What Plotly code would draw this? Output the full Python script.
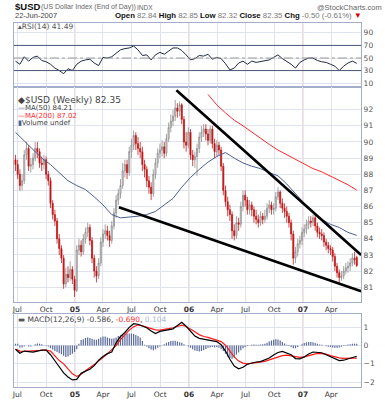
import plotly.graph_objects as go
import pandas as pd

# ---------------- data ----------------
weeks = pd.date_range('2004-06-25', periods=157, freq='7D')

price_open = [88.9,88.6,88.0,87.3,87.6,89.2,89.6,88.5,88.6,89.0,89.6,89.4,88.7,88.6,88.9,88.0,87.6,86.2,85.5,85.1,
              84.0,83.4,82.8,81.2,81.8,81.6,82.1,81.5,80.8,83.3,83.6,83.2,84.0,84.4,84.7,83.9,82.8,82.0,81.7,82.5,
              83.8,84.3,84.5,84.2,83.9,84.8,85.6,86.4,86.8,87.3,88.2,88.6,88.1,89.4,89.8,90.4,89.9,89.6,89.4,88.6,
              88.3,87.6,87.2,86.8,88.0,88.7,89.3,89.5,89.7,89.3,90.2,90.9,91.3,91.6,92.1,91.9,92.3,91.4,90.0,89.8,
              90.6,89.2,88.9,89.1,89.6,90.3,90.6,90.8,90.5,90.1,90.8,89.9,89.4,89.8,89.5,88.5,87.0,86.3,85.8,85.5,
              84.5,84.2,85.0,84.9,86.0,86.7,86.4,85.8,86.1,85.8,85.4,85.2,85.0,85.4,85.2,85.4,85.9,86.1,85.8,85.9,
              86.6,86.9,86.2,85.9,85.7,85.4,85.0,84.3,82.8,83.2,83.7,83.9,84.4,84.6,84.9,85.1,85.0,85.3,84.8,84.4,
              84.3,84.2,83.8,83.6,83.4,83.3,82.9,82.3,81.9,81.6,81.7,82.0,82.2,82.3,82.5,82.8,82.84]
price_high = [89.2,88.9,88.3,88.0,89.5,90.0,89.8,89.0,89.3,90.0,90.0,89.6,89.1,89.2,89.1,88.2,87.8,86.4,85.8,85.3,
              84.3,83.6,83.0,82.2,82.3,82.6,82.3,81.7,83.6,84.0,83.9,84.3,84.7,85.0,84.9,84.1,83.0,82.3,82.8,84.1,
              84.6,84.9,84.8,84.5,85.1,85.9,86.7,87.1,87.7,88.7,88.9,88.9,89.7,90.2,90.7,90.6,90.3,90.0,89.7,88.9,
              88.5,87.9,87.5,88.3,89.0,89.6,89.9,90.1,90.0,90.5,91.2,91.7,92.0,92.6,92.4,92.5,92.4,91.6,90.6,90.9,
              90.8,89.5,89.4,89.9,90.6,91.0,91.1,91.1,90.8,91.0,91.0,90.2,90.1,90.0,89.7,88.7,87.3,86.6,86.1,85.7,
              84.9,85.4,85.3,86.3,87.0,87.0,86.6,86.4,86.3,86.0,85.8,85.5,85.7,85.6,85.8,86.2,86.4,86.3,86.2,86.9,
              87.2,87.0,86.5,86.2,86.0,85.6,85.2,84.5,83.5,84.0,84.2,84.7,84.9,85.2,85.4,85.4,85.5,85.5,85.0,84.7,
              84.6,84.4,84.0,83.8,83.6,83.5,83.1,82.5,82.1,82.0,82.3,82.5,82.6,82.8,83.1,83.2,82.95]
price_low = [88.2,87.7,87.0,87.0,87.4,88.9,88.2,88.1,88.3,88.8,89.0,88.4,88.2,88.3,87.7,87.3,85.9,85.2,84.8,83.7,
             83.0,82.5,80.9,81.0,81.3,81.4,81.2,80.4,80.7,83.0,82.9,83.0,83.7,84.1,83.6,82.5,81.6,81.3,81.5,82.3,
             83.5,84.0,83.9,83.5,83.7,84.6,85.3,86.1,86.5,87.1,87.8,87.7,87.9,89.0,89.5,89.5,89.2,89.0,88.2,87.8,
             87.2,86.8,86.4,86.6,87.7,88.4,89.0,89.1,89.0,89.1,90.0,90.6,91.0,91.3,91.5,91.6,91.1,89.6,89.4,89.6,
             88.9,88.5,88.4,87.9,89.3,90.0,90.3,90.1,89.8,89.9,89.6,89.0,89.1,89.2,88.2,86.7,86.0,85.4,85.1,84.0,
             83.9,84.0,84.5,84.7,85.7,86.0,85.5,85.5,85.4,85.0,84.9,84.7,84.8,84.9,85.0,85.2,85.6,85.5,85.5,85.7,
             86.4,85.9,85.6,85.3,85.0,84.7,83.9,82.4,82.5,82.9,83.4,83.6,84.1,84.3,84.6,84.7,84.8,84.5,84.1,84.0,
             83.9,83.5,83.3,83.1,83.0,82.6,82.0,81.6,81.3,81.4,81.5,81.8,81.9,82.0,82.3,82.4,82.25]
price_close = [88.6,88.0,87.3,87.6,89.2,89.6,88.5,88.6,89.0,89.6,89.4,88.7,88.6,88.9,88.0,87.6,86.2,85.5,85.1,84.0,
               83.4,82.8,81.2,81.8,81.6,82.1,81.5,80.8,83.3,83.6,83.2,84.0,84.4,84.7,83.9,82.8,82.0,81.7,82.5,83.8,
               84.3,84.5,84.2,83.9,84.8,85.6,86.4,86.8,87.3,88.2,88.6,88.1,89.4,89.8,90.4,89.9,89.6,89.4,88.6,88.3,
               87.6,87.2,86.8,88.0,88.7,89.3,89.5,89.7,89.3,90.2,90.9,91.3,91.6,92.1,91.9,92.3,91.4,90.0,89.8,90.6,
               89.2,88.9,89.1,89.6,90.3,90.6,90.8,90.5,90.1,90.8,89.9,89.4,89.8,89.5,88.5,87.0,86.3,85.8,85.5,84.5,
               84.2,85.0,84.9,86.0,86.7,86.4,85.8,86.1,85.8,85.4,85.2,85.0,85.4,85.2,85.4,85.9,86.1,85.8,85.9,86.6,
               86.9,86.2,85.9,85.7,85.4,85.0,84.3,82.8,83.2,83.7,83.9,84.4,84.6,84.9,85.1,85.0,85.3,84.8,84.4,84.3,
               84.2,83.8,83.6,83.4,83.3,82.9,82.3,81.9,81.6,81.7,82.0,82.2,82.3,82.5,82.8,82.7,82.35]

# MA(50), one value every 4 weeks
ma50 = [90.6,90.05,89.5,89.0,88.6,88.1,87.6,87.3,87.05,86.6,86.1,85.5,85.3,85.35,85.4,85.5,85.7,86.1,86.5,87.2,
        87.8,88.3,88.75,89.1,89.35,89.0,88.7,88.5,88.35,88.1,87.9,87.4,86.8,86.2,85.7,85.2,84.9,84.7,84.4,84.21]
# MA(200), one value every 4 weeks from week 88
ma200 = [92.95,92.3,91.8,91.35,91.0,90.6,90.2,89.85,89.5,89.2,88.9,88.6,88.35,88.15,87.9,87.65,87.35,87.02]

# RSI(14), one value every 2 weeks
rsi14 = [45,40,52,45,51,53,46,44,40,34,30,25,33,30,40,45,47,48,42,38,
         51,50,52,58,63,65,66,69,63,54,55,47,55,59,56,61,66,66,62,55,
         47,49,54,53,56,48,51,49,41,31,34,42,45,40,45,43,44,46,47,51,
         55,49,45,40,34,43,47,50,50,46,44,43,40,37,30,37,42,45,41.49]

# MACD(12,26,9), every 2 weeks
macd_line = [-0.2,-0.42,-0.3,-0.33,-0.36,-0.3,-0.25,-0.25,-0.5,-0.83,-1.15,-1.5,-1.72,-1.88,-1.85,-1.52,-1.4,-1.3,-1.1,-0.8,
             -0.6,-0.44,-0.35,0.15,0.5,0.72,1.0,1.2,1.17,1.08,0.98,0.8,0.66,0.78,0.83,0.84,0.92,1.1,1.28,1.06,
             0.78,0.52,0.4,0.35,0.33,0.28,0.22,0.05,-0.3,-0.75,-1.12,-1.27,-1.19,-1.02,-0.94,-0.9,-0.88,-0.8,-0.68,-0.52,
             -0.38,-0.32,-0.39,-0.5,-0.71,-0.73,-0.62,-0.46,-0.35,-0.35,-0.39,-0.5,-0.6,-0.73,-0.82,-0.8,-0.73,-0.64,-0.586]
macd_signal = [-0.19,-0.3,-0.32,-0.3,-0.27,-0.25,-0.22,-0.24,-0.3,-0.55,-0.82,-1.0,-1.3,-1.55,-1.69,-1.57,-1.38,-1.22,-1.03,-0.85,
               -0.66,-0.45,-0.22,0.0,0.33,0.6,0.85,1.03,1.13,1.08,1.0,0.92,0.86,0.85,0.87,0.93,0.98,1.05,1.12,1.05,
               0.92,0.76,0.6,0.5,0.45,0.38,0.3,0.22,0.02,-0.3,-0.62,-0.85,-0.96,-1.0,-0.97,-0.94,-0.92,-0.86,-0.78,-0.7,
               -0.6,-0.55,-0.52,-0.56,-0.6,-0.65,-0.62,-0.55,-0.47,-0.43,-0.44,-0.47,-0.55,-0.63,-0.67,-0.7,-0.7,-0.7,-0.69]
# histogram, weekly
macd_hist = [0.1,0.1,-0.1,-0.1,-0.05,0.0,-0.05,-0.05,0.0,0.08,0.12,0.1,0.08,0.02,-0.02,-0.05,-0.15,-0.22,-0.3,-0.35,
             -0.42,-0.48,-0.55,-0.62,-0.6,-0.52,-0.45,-0.35,-0.2,0.1,0.3,0.35,0.42,0.45,0.42,0.38,0.33,0.32,0.38,0.45,
             0.5,0.5,0.45,0.4,0.38,0.4,0.45,0.52,0.55,0.58,0.62,0.65,0.66,0.66,0.64,0.58,0.52,0.45,0.25,0.05,
             -0.05,-0.15,-0.22,-0.25,-0.2,-0.12,-0.05,0.02,0.08,0.15,0.2,0.25,0.27,0.26,0.22,0.18,0.15,0.08,0.0,-0.05,
             -0.12,-0.2,-0.27,-0.3,-0.32,-0.3,-0.25,-0.18,-0.12,-0.1,-0.08,-0.1,-0.08,-0.12,-0.2,-0.3,-0.45,-0.6,-0.7,-0.72,
             -0.65,-0.5,-0.38,-0.25,-0.15,-0.08,-0.02,0.02,0.05,0.06,0.05,0.05,0.06,0.08,0.1,0.15,0.22,0.28,0.32,0.35,
             0.33,0.28,0.2,0.12,0.05,-0.02,-0.08,-0.15,-0.15,-0.08,0.0,0.08,0.14,0.18,0.2,0.2,0.18,0.14,0.1,0.06,
             0.04,0.0,-0.03,-0.06,-0.08,-0.1,-0.12,-0.12,-0.1,-0.06,-0.02,0.03,0.06,0.08,0.1,0.1,0.104]

upper_trend_dates = ['2005-11-22', '2007-07-06']
upper_trend_prices = [93.2, 83.0]
lower_trend_dates = ['2005-05-22', '2007-07-06']
lower_trend_prices = [85.95, 80.75]

quarter_ticks = ['2004-07-01', '2004-10-01', '2005-01-01', '2005-04-01', '2005-07-01', '2005-10-01',
                 '2006-01-01', '2006-04-01', '2006-07-01', '2006-10-01', '2007-01-01', '2007-04-01']
quarter_labels = ['Jul', 'Oct', '<b>05</b>', 'Apr', 'Jul', 'Oct', '<b>06</b>', 'Apr', 'Jul', 'Oct', '<b>07</b>', 'Apr']
year_starts = ['2005-01-01', '2006-01-01', '2007-01-01']
price_ticks = [81, 82, 83, 84, 85, 86, 87, 88, 89, 90, 91, 92]
rsi_ticks = [10, 30, 50, 70, 90]
rsi_bands = [30, 70]
rsi_mid = 50
macd_ticks = [-2, -1, 0, 1]

# ---------------- layout helpers ----------------
W, H = 385, 400
def fx(px):
    return px / W
def fy(py):
    return 1 - py / H

X0, X1 = 12, 361
x_range = ['2004-06-20', '2007-07-06']
FRAME = '#a3aecb'
GRID = '#dfe3ee'
TICKF = dict(family='DejaVu Sans', size=7.5, color='#555')

fig = go.Figure()

# RSI
fig.add_trace(go.Scatter(x=weeks[::2], y=rsi14, mode='lines', line=dict(color='#1f2a44', width=1),
                         xaxis='x', yaxis='y', showlegend=False, hoverinfo='skip'))
# price
fig.add_trace(go.Candlestick(x=weeks, open=price_open, high=price_high, low=price_low, close=price_close,
                             increasing=dict(line=dict(color='#8c8c8c', width=0.8), fillcolor='#e6e6e6'),
                             decreasing=dict(line=dict(color='#c21a1a', width=0.8), fillcolor='#c00000'),
                             whiskerwidth=0, xaxis='x2', yaxis='y2', showlegend=False, hoverinfo='skip'))
fig.add_trace(go.Scatter(x=weeks[::4], y=ma50, mode='lines', line=dict(color='#4d5f95', width=1),
                         xaxis='x2', yaxis='y2', showlegend=False, hoverinfo='skip'))
fig.add_trace(go.Scatter(x=weeks[88::4], y=ma200, mode='lines', line=dict(color='#ff2a2a', width=1),
                         xaxis='x2', yaxis='y2', showlegend=False, hoverinfo='skip'))
fig.add_trace(go.Scatter(x=upper_trend_dates, y=upper_trend_prices, mode='lines',
                         line=dict(color='#000', width=2.6), xaxis='x2', yaxis='y2', showlegend=False,
                         hoverinfo='skip'))
fig.add_trace(go.Scatter(x=lower_trend_dates, y=lower_trend_prices, mode='lines',
                         line=dict(color='#000', width=2.6), xaxis='x2', yaxis='y2', showlegend=False,
                         hoverinfo='skip'))
# MACD
fig.add_trace(go.Bar(x=weeks, y=macd_hist, marker=dict(color='#5a6a9c', line=dict(width=0)),
                     xaxis='x3', yaxis='y3', showlegend=False, hoverinfo='skip'))
fig.add_trace(go.Scatter(x=weeks[::2], y=macd_signal, mode='lines', line=dict(color='#ff1a1a', width=1.2),
                         xaxis='x3', yaxis='y3', showlegend=False, hoverinfo='skip'))
fig.add_trace(go.Scatter(x=weeks[::2], y=macd_line, mode='lines', line=dict(color='#000', width=1.2),
                         xaxis='x3', yaxis='y3', showlegend=False, hoverinfo='skip'))

def xax(show_labels):
    return dict(domain=[fx(X0), fx(X1)], range=x_range, type='date',
                tickvals=quarter_ticks, ticktext=quarter_labels, showticklabels=show_labels,
                tickfont=dict(family='DejaVu Sans', size=7.5, color='#333'), ticks='',
                showgrid=True, gridcolor=GRID, gridwidth=1, zeroline=False,
                showline=True, linecolor=FRAME, linewidth=1, mirror=True, fixedrange=True)

def yax(dom, rng, tv):
    return dict(domain=dom, range=rng, side='right', tickvals=tv, tickfont=TICKF, ticks='',
                showgrid=True, gridcolor=GRID, gridwidth=1, zeroline=False,
                showline=True, linecolor=FRAME, linewidth=1, mirror=True, fixedrange=True)

x2 = xax(True)
x2['rangeslider'] = dict(visible=False)
fig.update_layout(
    width=W, height=H, margin=dict(l=0, r=0, t=0, b=0),
    paper_bgcolor='white', plot_bgcolor='white', bargap=0.45, hovermode=False,
    xaxis=dict(xax(False), anchor='y'),
    yaxis=dict(yax([fy(87), fy(23)], [4.2, 105.8], rsi_ticks), anchor='x'),
    xaxis2=dict(x2, anchor='y2', matches='x'),
    yaxis2=dict(yax([fy(303), fy(87)], [80.07, 93.42], price_ticks), anchor='x2'),
    xaxis3=dict(xax(True), anchor='y3', matches='x'),
    yaxis3=dict(yax([fy(388), fy(315)], [-2.27, 1.72], macd_ticks), anchor='x3'),
)

shapes = []
for yv in rsi_bands:
    shapes.append(dict(type='line', xref='x domain', yref='y', x0=0, x1=1, y0=yv, y1=yv,
                       line=dict(color='#4b5677', width=1)))
shapes.append(dict(type='line', xref='x domain', yref='y', x0=0, x1=1, y0=rsi_mid, y1=rsi_mid,
                   line=dict(color='#9a9a9a', width=1, dash='dashdot')))
for ys in year_starts:
    for xr, yr in (('x', 'y domain'), ('x2', 'y2 domain'), ('x3', 'y3 domain')):
        shapes.append(dict(type='line', xref=xr, yref=yr, x0=ys, x1=ys, y0=0, y1=1,
                           line=dict(color='#ecc6c6', width=1), layer='below'))
fig.update_layout(shapes=shapes)

ann = []
def txt(x, y, text, size=8, color='#444', family='DejaVu Sans', xanchor='left'):
    ann.append(dict(x=fx(x), y=fy(y), xref='paper', yref='paper', text=text, showarrow=False,
                    xanchor=xanchor, yanchor='middle', font=dict(family=family, size=size, color=color)))

txt(11, 7, '<b>$USD</b>', size=9.5, color='#111', family='Liberation Sans')
txt(37, 7.5, '(US Dollar Index (End of Day))', size=7, color='#666', family='Liberation Sans')
txt(134, 7.5, 'INDX', size=6.5, color='#666', family='Liberation Sans')
txt(384, 7.5, '@StockCharts.com', size=7.5, color='#666', family='Liberation Sans', xanchor='right')
txt(11, 16, '22-Jun-2007', size=7.5, color='#444', family='Liberation Sans')
txt(364, 16, "<b>Open</b> <span style='color:#777'>82.84</span> <b>High</b> <span style='color:#777'>82.85</span> "
             "<b>Low</b> <span style='color:#777'>82.32</span> <b>Close</b> <span style='color:#777'>82.35</span> "
             "<b>Chg</b> <span style='color:#777'>-0.50 (-0.61%)</span> <span style='color:#d00000'>▼</span>",
    size=7.8, color='#111', family='Liberation Sans', xanchor='right')
txt(14, 26.5, '▴RSI(14) 41.49', size=7.5, color='#555')
txt(14, 100, '◆$USD (Weekly) 82.35', size=9, color='#444')
txt(14, 108.3, "<span style='color:#4d5f95'>—</span>MA(50) 84.21", size=7, color='#444')
txt(14, 116, "<span style='color:#ff2a2a'>—MA(200) 87.02</span>", size=7, color='#ff2a2a')
txt(14, 123.7, "<span style='color:#4d5f95'>▮</span>Volume undef", size=7, color='#444')
txt(14, 320, "<span style='color:#555'>▬</span> MACD(12,26,9) -0.586, <span style='color:#ff2a2a'>-0.690</span>, "
             "<span style='color:#a8b8d8'>0.104</span>", size=7.5, color='#444')
fig.update_layout(annotations=ann)

fig.write_html('out.html', config={'displayModeBar': False, 'staticPlot': True},
               post_script="document.body.style.margin='0';document.body.style.padding='0';"
                           "document.documentElement.style.overflow='hidden';")
